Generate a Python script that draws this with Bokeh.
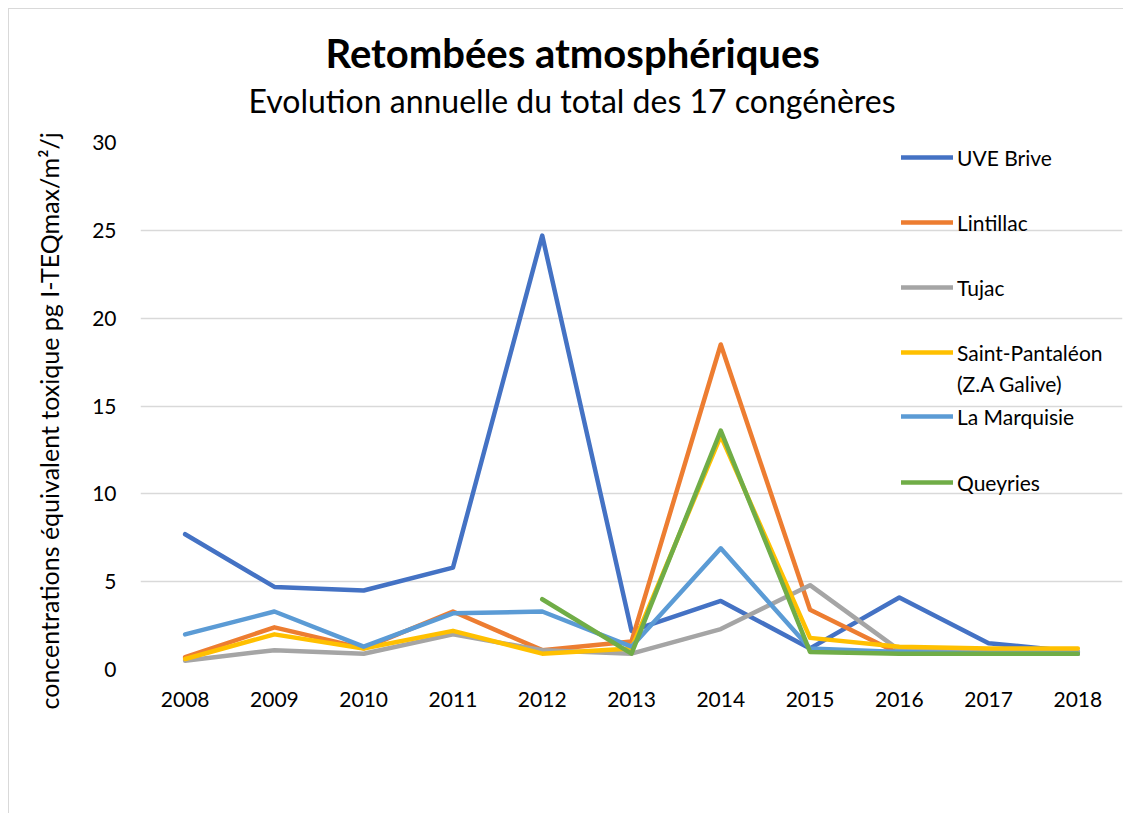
from bokeh.plotting import figure
from bokeh.models import FactorRange, Range1d, Legend, LegendItem, Title, FixedTicker
from bokeh.embed import file_html
from bokeh.resources import INLINE

years = ["2008", "2009", "2010", "2011", "2012", "2013", "2014", "2015", "2016", "2017", "2018"]
uve_brive = [7.7, 4.7, 4.5, 5.8, 24.7, 2.2, 3.9, 1.2, 4.1, 1.5, 1.0]
lintillac = [0.7, 2.4, 1.2, 3.3, 1.1, 1.6, 18.5, 3.4, 0.9, 0.9, 0.9]
tujac = [0.5, 1.1, 0.9, 2.0, 1.1, 0.9, 2.3, 4.8, 1.1, 1.0, 1.0]
saint_pantaleon = [0.6, 2.0, 1.2, 2.2, 0.9, 1.2, 13.3, 1.8, 1.3, 1.2, 1.2]
la_marquisie = [2.0, 3.3, 1.3, 3.2, 3.3, 1.3, 6.9, 1.2, 1.0, 0.9, 0.9]
queyries_years = ["2012", "2013", "2014", "2015", "2016", "2017", "2018"]
queyries = [4.0, 0.9, 13.6, 1.0, 0.9, 0.9, 0.9]

series = [
    ("UVE Brive", years, uve_brive, "#4472C4"),
    ("Lintillac", years, lintillac, "#ED7D31"),
    ("Tujac", years, tujac, "#A5A5A5"),
    ("Saint-Pantaléon", years, saint_pantaleon, "#FFC000"),
    ("La Marquisie", years, la_marquisie, "#5B9BD5"),
    ("Queyries", queyries_years, queyries, "#70AD47"),
]
saint_pantaleon_label_2 = "(Z.A Galive)"
y_label = "concentrations équivalent toxique pg I-TEQmax/m²/j"

FONT = "Lato"

p = figure(
    width=1115, height=805,
    x_range=FactorRange(*years, range_padding=0),
    y_range=Range1d(0, 30),
    output_backend="svg", toolbar_location=None,
    min_border_left=131, min_border_right=2, min_border_top=133, min_border_bottom=145,
)
p.styles = {"margin-left": "8px", "margin-top": "8px",
            "border-left": "1px solid #d9d9d9", "border-top": "1px solid #d9d9d9"}
p.outline_line_color = None
p.background_fill_color = "white"
p.border_fill_color = "white"

p.xgrid.grid_line_color = None
p.ygrid.grid_line_color = "#d9d9d9"
p.ygrid.grid_line_width = 1.3
p.yaxis.ticker = FixedTicker(ticks=[0, 5, 10, 15, 20, 25, 30])

for ax in (p.xaxis[0], p.yaxis[0]):
    ax.axis_line_color = None
    ax.major_tick_line_color = None
    ax.minor_tick_line_color = None
    ax.major_tick_out = 0
    ax.major_tick_in = 0
    ax.major_label_text_font = FONT
    ax.major_label_text_font_size = "21px"
    ax.major_label_text_color = "#000000"

p.xaxis.major_label_standoff = 22
p.yaxis.major_label_standoff = 24

renderers = []
for name, xs, ys, color in series:
    r = p.line(xs, ys, line_color=color, line_width=4.5, line_cap="round", line_join="round")
    renderers.append((name, r))

# second line of the Saint-Pantaléon legend entry (no glyph of its own)
blank = p.line(x=[], y=[], line_alpha=0)

common = dict(orientation="vertical", padding=0, margin=0, glyph_width=52,
              label_standoff=4, label_text_font=FONT, label_text_font_size="21px",
              label_text_color="#000000", background_fill_alpha=0, border_line_alpha=0,
              label_height=50, glyph_height=50)

legend_a = Legend(items=[LegendItem(label=n, renderers=[r]) for n, r in renderers[:4]],
                  location=(761, 292), spacing=15, **common)
legend_b = Legend(items=[LegendItem(label=saint_pantaleon_label_2, renderers=[blank])],
                  location=(761, 261), spacing=0, **common)
legend_c = Legend(items=[LegendItem(label=n, renderers=[r]) for n, r in renderers[4:]],
                  location=(761, 162), spacing=16, **common)
for lg in (legend_a, legend_b, legend_c):
    p.add_layout(lg, "center")

# vertical axis title (placed as a left-side title so it can sit like Excel's)
y_title = Title(text=y_label, align="left", offset=-40, vertical_align="top",
                text_font=FONT, text_font_size="25px", text_font_style="normal",
                text_color="#000000", standoff=48)
p.add_layout(y_title, "left")

p.title.visible = False
spacer = Title(text=" ", text_font=FONT, text_font_size="10px", standoff=9)
subtitle = Title(text="Evolution annuelle du total des 17 congénères", align="left", offset=108,
                 text_font=FONT, text_font_size="32px", text_font_style="normal",
                 text_color="#000000", standoff=0)
main_title = Title(text="Retombées atmosphériques", align="left", offset=185,
                   text_font=FONT, text_font_size="40px", text_font_style="bold",
                   text_color="#000000", standoff=3)
p.add_layout(spacer, "above")
p.add_layout(subtitle, "above")
p.add_layout(main_title, "above")

open("out.html", "w").write(file_html(p, INLINE))
